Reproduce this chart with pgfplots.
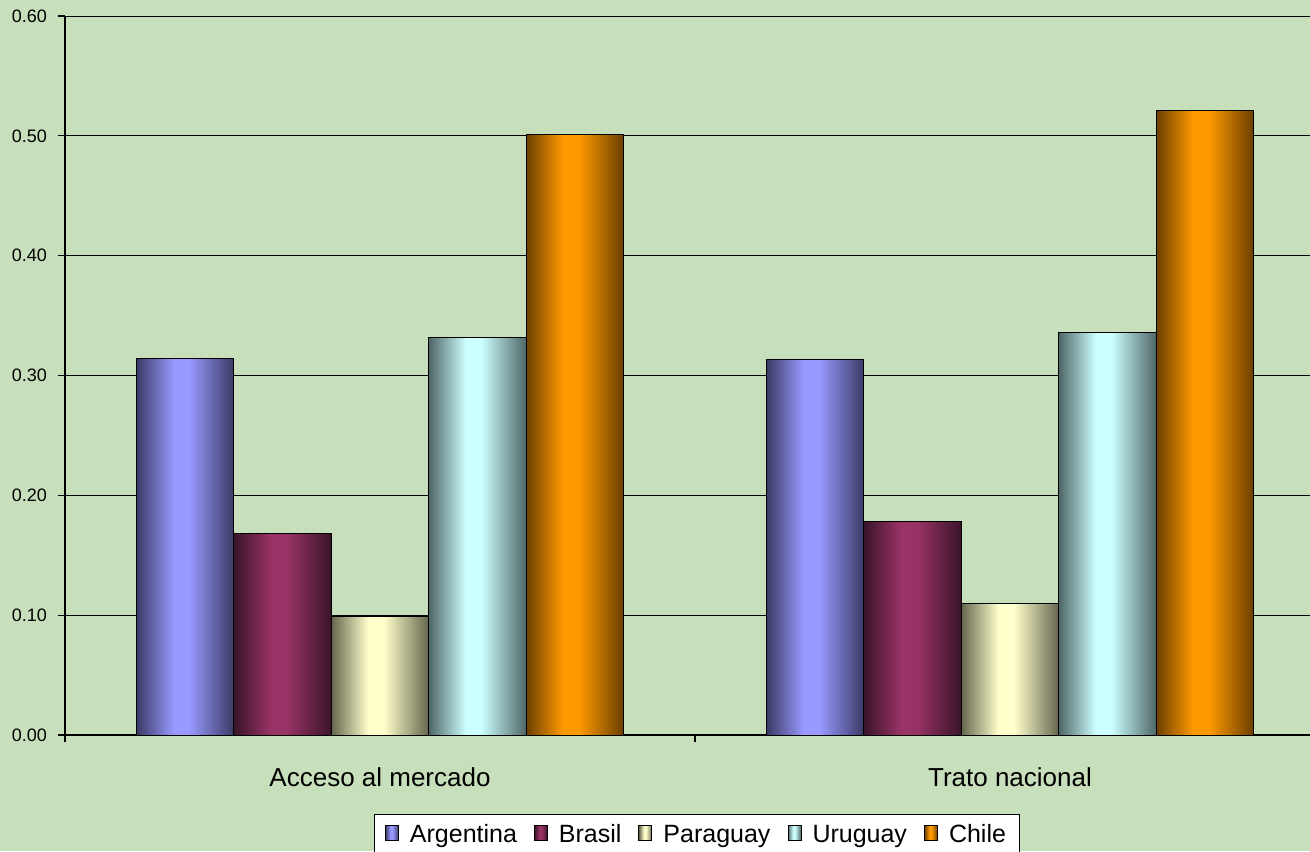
\documentclass[border=0pt]{standalone}
\usepackage{fontspec}
\setmainfont{Liberation Sans}
\usepackage{pgfplots}
\pgfplotsset{compat=1.18}

\definecolor{bgc}{RGB}{200,223,188}
\definecolor{argL}{HTML}{9999FF}\definecolor{argD}{HTML}{3A3A66}
\definecolor{braL}{HTML}{993366}\definecolor{braD}{HTML}{3A1428}
\definecolor{parL}{HTML}{FFFFCC}\definecolor{parD}{HTML}{66664F}
\definecolor{uruL}{HTML}{CCFFFF}\definecolor{uruD}{HTML}{4F6666}
\definecolor{chiL}{HTML}{FF9900}\definecolor{chiD}{HTML}{6B3F00}

% cylinder-like shading: dark edges, light band a bit left of centre
\pgfdeclarehorizontalshading{argsh}{100bp}{color(0bp)=(argD); color(25bp)=(argD); color(44bp)=(argL); color(52bp)=(argL); color(75bp)=(argD); color(100bp)=(argD)}
\pgfdeclarehorizontalshading{brash}{100bp}{color(0bp)=(braD); color(25bp)=(braD); color(44bp)=(braL); color(52bp)=(braL); color(75bp)=(braD); color(100bp)=(braD)}
\pgfdeclarehorizontalshading{parsh}{100bp}{color(0bp)=(parD); color(25bp)=(parD); color(44bp)=(parL); color(52bp)=(parL); color(75bp)=(parD); color(100bp)=(parD)}
\pgfdeclarehorizontalshading{urush}{100bp}{color(0bp)=(uruD); color(25bp)=(uruD); color(44bp)=(uruL); color(52bp)=(uruL); color(75bp)=(uruD); color(100bp)=(uruD)}
\pgfdeclarehorizontalshading{chish}{100bp}{color(0bp)=(chiD); color(25bp)=(chiD); color(44bp)=(chiL); color(52bp)=(chiL); color(75bp)=(chiD); color(100bp)=(chiD)}

\pgfplotsset{
  barstyle/.style={draw=black, line width=0.5pt, shade, shading=#1},
  legsq/.style={legend image code/.code={%
      \draw[black, line width=0.5pt, fill=#1] (0pt,-2.6pt) rectangle (6.5pt,4.6pt);}},
}

\begin{document}
\begin{tikzpicture}
\fill[bgc, use as bounding box] (0,0) rectangle (655pt,425.5pt);
\begin{axis}[
    at={(32.5pt,58pt)}, anchor=south west,
    scale only axis,
    width=622.5pt, height=359.5pt,
    xmin=-0.5, xmax=1.4762,
    ymin=0, ymax=0.6,
    ybar=0pt, bar width=48.7pt,
    axis x line*=bottom, axis y line*=left,
    axis line style={black, line width=0.6pt},
    tick align=outside,
    major tick length=3.5pt,
    tick style={black, line width=0.6pt},
    xtick={-0.5,0.5,1.5}, xticklabels={},
    extra x ticks={0,1},
    extra x tick labels={Acceso al mercado,Trato nacional},
    extra x tick style={major tick length=0pt,
        xticklabel style={font=\fontsize{13}{15}\selectfont, yshift=-13pt}},
    ytick={0,0.1,0.2,0.3,0.4,0.5},
    extra y ticks={0.6},
    extra y tick style={grid style={gray, line width=0.6pt}},
    ymajorgrids,
    major grid style={black, line width=0.5pt},
    /pgf/number format/assume math mode=true,
    yticklabel={\pgfmathprintnumber[fixed,fixed zerofill,precision=2]{\tick}},
    yticklabel style={font=\fontsize{9}{11}\selectfont, xshift=-2pt},
    legend columns=5,
    legend style={at={(axis description cs:0.508,-0.1099)}, anchor=north,
        draw=black, fill=white, line width=0.5pt,
        font=\fontsize{12.5}{15}\selectfont,
        inner xsep=5pt, inner ysep=3pt,
        /tikz/every odd column/.append style={column sep=3.5pt},
        /tikz/every even column/.append style={column sep=6.5pt}},
]
\addplot[barstyle=argsh, bar shift=-97.4pt, legsq=argL] coordinates {(0,0.314)};
\addplot[barstyle=argsh, bar shift=-97.4pt, forget plot] coordinates {(1,0.313)};
\addplot[barstyle=brash, bar shift=-48.7pt, legsq=braL] coordinates {(0,0.168)};
\addplot[barstyle=brash, bar shift=-48.7pt, forget plot] coordinates {(1,0.178)};
\addplot[barstyle=parsh, bar shift=0pt, legsq=parL] coordinates {(0,0.099)};
\addplot[barstyle=parsh, bar shift=0pt, forget plot] coordinates {(1,0.110)};
\addplot[barstyle=urush, bar shift=48.7pt, legsq=uruL] coordinates {(0,0.332)};
\addplot[barstyle=urush, bar shift=48.7pt, forget plot] coordinates {(1,0.336)};
\addplot[barstyle=chish, bar shift=97.4pt, legsq=chiL] coordinates {(0,0.501)};
\addplot[barstyle=chish, bar shift=97.4pt, forget plot] coordinates {(1,0.521)};
\legend{Argentina,Brasil,Paraguay,Uruguay,Chile}
\end{axis}
\end{tikzpicture}
\end{document}
